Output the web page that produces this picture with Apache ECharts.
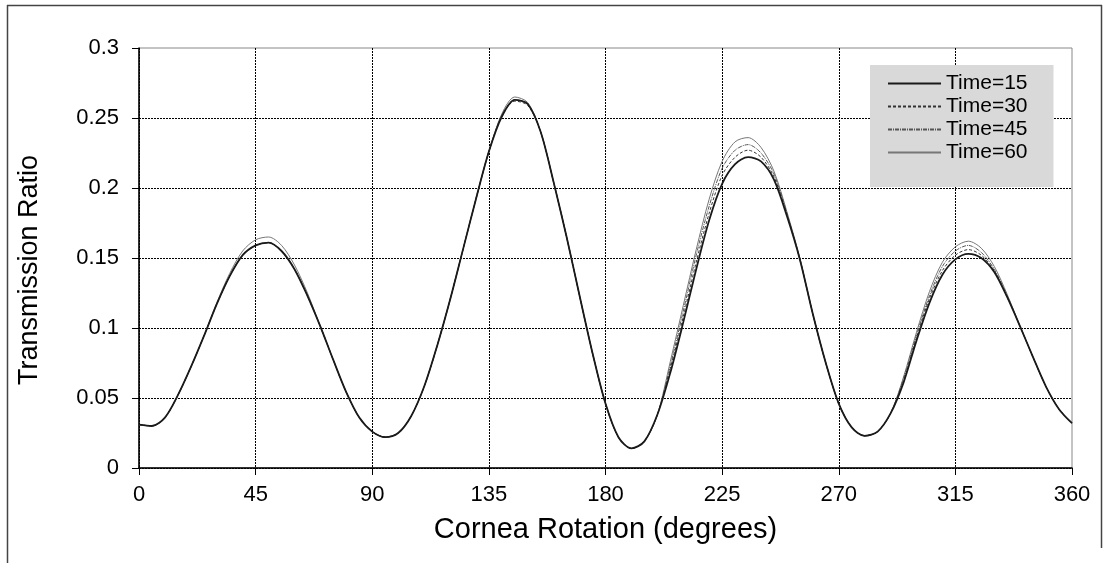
<!DOCTYPE html>
<html>
<head>
<meta charset="utf-8">
<script src="https://cdn.jsdelivr.net/npm/echarts@6/dist/echarts.min.js"></script>
<style>
  html, body { margin: 0; padding: 0; background: #fff; }
  #main { width: 1107px; height: 563px; }
</style>
</head>
<body>
<div id="main"></div>
<script>
// cornea rotation angle, degrees
var degrees = [0, 5, 10, 15, 20, 25, 30, 35, 40, 45, 50, 55, 60, 65, 70, 75, 80, 85, 90,
  95, 100, 105, 110, 115, 120, 125, 130, 135, 140, 145, 150, 155, 160, 165, 170, 175, 180,
  185, 190, 195, 200, 205, 210, 215, 220, 225, 230, 235, 240, 245, 250, 255, 260, 265, 270,
  275, 280, 285, 290, 295, 300, 305, 310, 315, 320, 325, 330, 335, 340, 345, 350, 355, 360]

// transmission ratio for each time
var time15 = [0.031, 0.030, 0.036, 0.052, 0.072, 0.094, 0.117, 0.137, 0.152, 0.159, 0.161, 0.155, 0.142, 0.123, 0.101, 0.077, 0.054, 0.036, 0.026,
  0.022, 0.025, 0.037, 0.058, 0.087, 0.120, 0.156, 0.192, 0.226, 0.251, 0.263, 0.260, 0.240, 0.204, 0.165, 0.123, 0.082, 0.046,
  0.022, 0.014, 0.019, 0.038, 0.068, 0.104, 0.142, 0.177, 0.203, 0.217, 0.222, 0.219, 0.206, 0.180, 0.149, 0.110, 0.075, 0.046,
  0.029, 0.023, 0.026, 0.039, 0.061, 0.091, 0.118, 0.138, 0.149, 0.153, 0.150, 0.140, 0.122, 0.101, 0.079, 0.058, 0.042, 0.032]
var time30 = [0.031, 0.030, 0.036, 0.052, 0.072, 0.094, 0.117, 0.137, 0.152, 0.159, 0.161, 0.155, 0.142, 0.123, 0.101, 0.077, 0.054, 0.036, 0.026,
  0.022, 0.025, 0.037, 0.058, 0.087, 0.120, 0.156, 0.192, 0.226, 0.251, 0.262, 0.259, 0.240, 0.204, 0.165, 0.123, 0.082, 0.046,
  0.022, 0.014, 0.019, 0.038, 0.071, 0.108, 0.147, 0.182, 0.209, 0.222, 0.227, 0.222, 0.208, 0.181, 0.149, 0.110, 0.075, 0.046,
  0.029, 0.023, 0.026, 0.039, 0.062, 0.093, 0.121, 0.141, 0.152, 0.156, 0.152, 0.141, 0.122, 0.101, 0.079, 0.058, 0.042, 0.032]
var time45 = [0.031, 0.030, 0.036, 0.052, 0.072, 0.094, 0.117, 0.137, 0.152, 0.159, 0.161, 0.155, 0.142, 0.123, 0.101, 0.077, 0.054, 0.036, 0.026,
  0.022, 0.025, 0.037, 0.058, 0.087, 0.120, 0.156, 0.192, 0.226, 0.252, 0.263, 0.260, 0.240, 0.204, 0.165, 0.123, 0.082, 0.046,
  0.022, 0.014, 0.019, 0.038, 0.073, 0.112, 0.152, 0.187, 0.214, 0.227, 0.231, 0.225, 0.210, 0.182, 0.149, 0.110, 0.075, 0.046,
  0.029, 0.023, 0.026, 0.039, 0.064, 0.095, 0.123, 0.144, 0.155, 0.159, 0.154, 0.142, 0.123, 0.101, 0.079, 0.058, 0.042, 0.032]
var time60 = [0.031, 0.030, 0.036, 0.052, 0.072, 0.094, 0.118, 0.139, 0.155, 0.163, 0.165, 0.159, 0.145, 0.125, 0.101, 0.077, 0.054, 0.036, 0.026,
  0.022, 0.025, 0.037, 0.058, 0.087, 0.120, 0.156, 0.192, 0.226, 0.253, 0.265, 0.261, 0.240, 0.204, 0.165, 0.123, 0.082, 0.046,
  0.022, 0.014, 0.019, 0.038, 0.076, 0.116, 0.156, 0.192, 0.219, 0.233, 0.236, 0.229, 0.212, 0.183, 0.150, 0.110, 0.075, 0.046,
  0.029, 0.023, 0.026, 0.039, 0.065, 0.097, 0.126, 0.147, 0.158, 0.162, 0.157, 0.144, 0.124, 0.101, 0.079, 0.058, 0.042, 0.032]

var seriesNames = ['Time=15', 'Time=30', 'Time=45', 'Time=60']

function pairs(vals) {
  return degrees.map(function (d, i) { return [d, vals[i]] })
}

var font = 'Liberation Sans, Arial, sans-serif'
var chart = echarts.init(document.getElementById('main'))

chart.setOption({
  animation: false,
  backgroundColor: '#fff',
  grid: {
    left: 139, right: 35, top: 48, bottom: 95,
    show: true, borderColor: '#888', borderWidth: 1, backgroundColor: 'transparent'
  },
  legend: {
    orient: 'vertical',
    left: 870, top: 65,
    padding: [8, 26, 24, 17],
    backgroundColor: '#d9d9d9',
    itemWidth: 53, itemHeight: 14, itemGap: 2, itemTextGap: 6,
    itemStyle: { opacity: 0 },
    textStyle: { fontFamily: font, fontSize: 21, color: '#000', lineHeight: 21 },
    data: seriesNames
  },
  xAxis: {
    type: 'value', min: 0, max: 360, interval: 45,
    name: 'Cornea Rotation (degrees)', nameLocation: 'middle', nameGap: 47,
    nameTextStyle: { fontFamily: font, fontSize: 29, color: '#000' },
    axisLine: { lineStyle: { color: '#000', width: 1.5 } },
    axisTick: { length: 7, lineStyle: { color: '#000' } },
    axisLabel: { fontFamily: font, fontSize: 22, color: '#000', margin: 16 },
    splitLine: { show: true, showMaxLine: false, lineStyle: { color: '#000', type: [2, 1], width: 1 } }
  },
  yAxis: {
    type: 'value', min: 0, max: 0.3, interval: 0.05,
    name: 'Transmission Ratio', nameLocation: 'middle', nameGap: 96,
    nameTextStyle: { fontFamily: font, fontSize: 27, color: '#000', padding: [0, 24, 0, 0] },
    axisLine: { show: true, lineStyle: { color: '#000', width: 1.5 } },
    axisTick: { show: true, length: 7, lineStyle: { color: '#000' } },
    axisLabel: { fontFamily: font, fontSize: 22, color: '#000', margin: 20 },
    splitLine: { show: true, showMaxLine: false, lineStyle: { color: '#000', type: [2, 1], width: 1 } }
  },
  graphic: [
    { type: 'line', shape: { x1: 7.5, y1: 5, x2: 7.5, y2: 563 }, style: { stroke: '#444', lineWidth: 1.5 } },
    { type: 'line', shape: { x1: 7, y1: 5.5, x2: 1102, y2: 5.5 }, style: { stroke: '#444', lineWidth: 1.5 } },
    { type: 'line', shape: { x1: 1101.5, y1: 5, x2: 1101.5, y2: 548 }, style: { stroke: '#444', lineWidth: 1.5 } }
  ],
  series: [
    {
      name: 'Time=15', type: 'line', data: pairs(time15), showSymbol: false, symbol: 'none',
      smooth: 0.3, z: 5, lineStyle: { color: '#1a1a1a', width: 1.8 }, itemStyle: { color: '#1a1a1a' }
    },
    {
      name: 'Time=30', type: 'line', data: pairs(time30), showSymbol: false, symbol: 'none',
      smooth: 0.3, z: 4, lineStyle: { color: '#333', width: 1, type: [3, 2] }, itemStyle: { color: '#333' }
    },
    {
      name: 'Time=45', type: 'line', data: pairs(time45), showSymbol: false, symbol: 'none',
      smooth: 0.3, z: 3, lineStyle: { color: '#555', width: 1, type: [4, 1, 1, 1] }, itemStyle: { color: '#555' }
    },
    {
      name: 'Time=60', type: 'line', data: pairs(time60), showSymbol: false, symbol: 'none',
      smooth: 0.3, z: 2, lineStyle: { color: '#777', width: 1 }, itemStyle: { color: '#777' }
    }
  ]
})
</script>
</body>
</html>
